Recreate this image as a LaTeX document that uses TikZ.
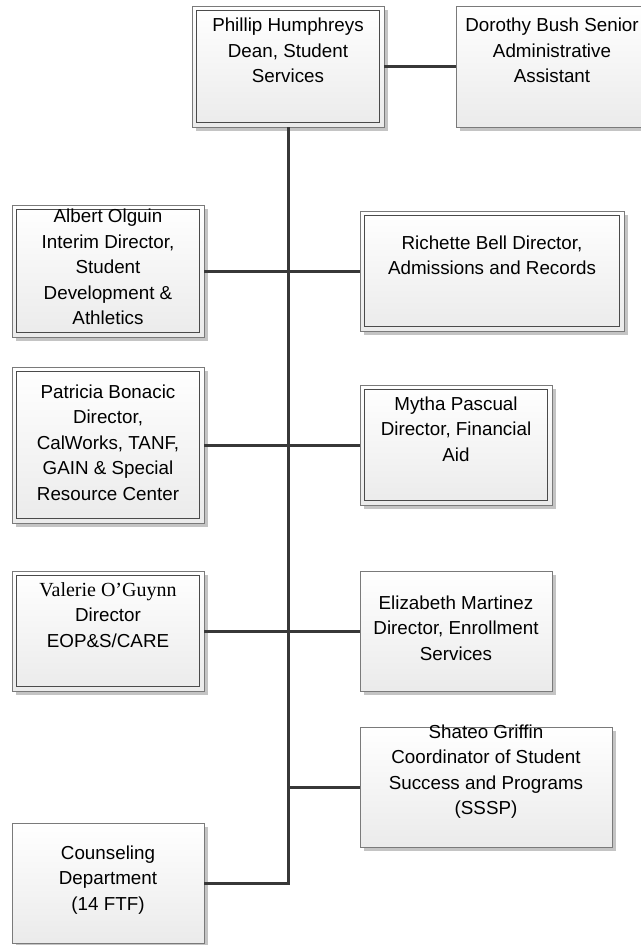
\documentclass[tikz,border=0pt]{standalone}
\usepackage{fontspec}
\setmainfont{Liberation Sans}
\newfontfamily\timesfont{Liberation Serif}
\usetikzlibrary{shadows}
\definecolor{conn}{HTML}{383838}
\definecolor{outerln}{HTML}{7A7A7A}
\definecolor{innerln}{HTML}{4A4A4A}
\definecolor{shadowc}{HTML}{C4C4C4}
\tikzset{
  orgbox/.style={draw=outerln, line width=0.8pt, inner sep=0pt, outer sep=0pt,
    top color=white, bottom color=black!8,
    drop shadow={shadow xshift=4pt, shadow yshift=-4pt, fill=shadowc, opacity=1}},
  dblbox/.style={orgbox, path picture={
    \draw[innerln, line width=0.8pt]
      ([shift={(4.5pt,-4.5pt)}]path picture bounding box.north west) rectangle
      ([shift={(-4.5pt,4.5pt)}]path picture bounding box.south east);}},
  lbl/.style={align=center, inner sep=0pt, font=\fontsize{18.8}{25.5}\selectfont},
  link/.style={draw=conn, line width=3pt}
}
\begin{document}
\begin{tikzpicture}[x=1pt, y=-1pt]
\useasboundingbox (0,0) rectangle (640,945);
% boxes
\node[dblbox, minimum width=192pt, minimum height=121pt] (phillip) at (288,66.5) {};
\node[orgbox, minimum width=192pt, minimum height=121pt] (dorothy) at (552,66.5) {};
\node[dblbox, minimum width=192pt, minimum height=132pt] (albert) at (108,271) {};
\node[dblbox, minimum width=264pt, minimum height=120pt] (richette) at (492,271) {};
\node[dblbox, minimum width=192pt, minimum height=156pt] (patricia) at (108,445) {};
\node[dblbox, minimum width=192pt, minimum height=120pt] (mytha) at (456,445) {};
\node[dblbox, minimum width=192pt, minimum height=120pt] (valerie) at (108,631) {};
\node[orgbox, minimum width=192pt, minimum height=120pt] (elizabeth) at (456,631) {};
\node[orgbox, minimum width=252pt, minimum height=120pt] (shateo) at (486,787) {};
\node[orgbox, minimum width=192pt, minimum height=120pt] (counseling) at (108,883) {};
% texts
\node[lbl] (phillip-t) at (288,50.5) {Phillip Humphreys\\Dean, Student\\Services};
\node[lbl] (dorothy-t) at (552,50.5) {Dorothy Bush Senior\\Administrative\\Assistant};
\node[lbl] (albert-t) at (108,267) {Albert Olguin\\Interim Director,\\Student\\Development \&\\Athletics};
\node[lbl] (richette-t) at (492,255.5) {Richette Bell Director,\\Admissions and Records};
\node[lbl] (patricia-t) at (108,442.5) {Patricia Bonacic\\Director,\\CalWorks, TANF,\\GAIN \& Special\\Resource Center};
\node[lbl] (mytha-t) at (456,429) {Mytha Pascual\\Director, Financial\\Aid};
\node[lbl] (valerie-t) at (108,615) {{\timesfont\fontsize{20}{25.5}\selectfont Valerie O’Guynn}\\Director\\EOP\&S/CARE};
\node[lbl] (elizabeth-t) at (456,628) {Elizabeth Martinez\\Director, Enrollment\\Services};
\node[lbl] (shateo-t) at (486,771.5) {Shateo Griffin\\Coordinator of Student\\Success and Programs\\(SSSP)};
\node[lbl] (counseling-t) at (108,880) {Counseling\\Department\\(14 FTF)};
% connectors
\draw[link] (phillip.east) -- (dorothy.west);
\draw[link] (phillip.south) -- (phillip.south |- counseling.east) -- (counseling.east);
\draw[link] (albert.east) -- (richette.west);
\draw[link] (patricia.east) -- (mytha.west);
\draw[link] (valerie.east) -- (elizabeth.west);
\draw[link] (phillip.south |- shateo.west) -- (shateo.west);
\end{tikzpicture}
\end{document}
